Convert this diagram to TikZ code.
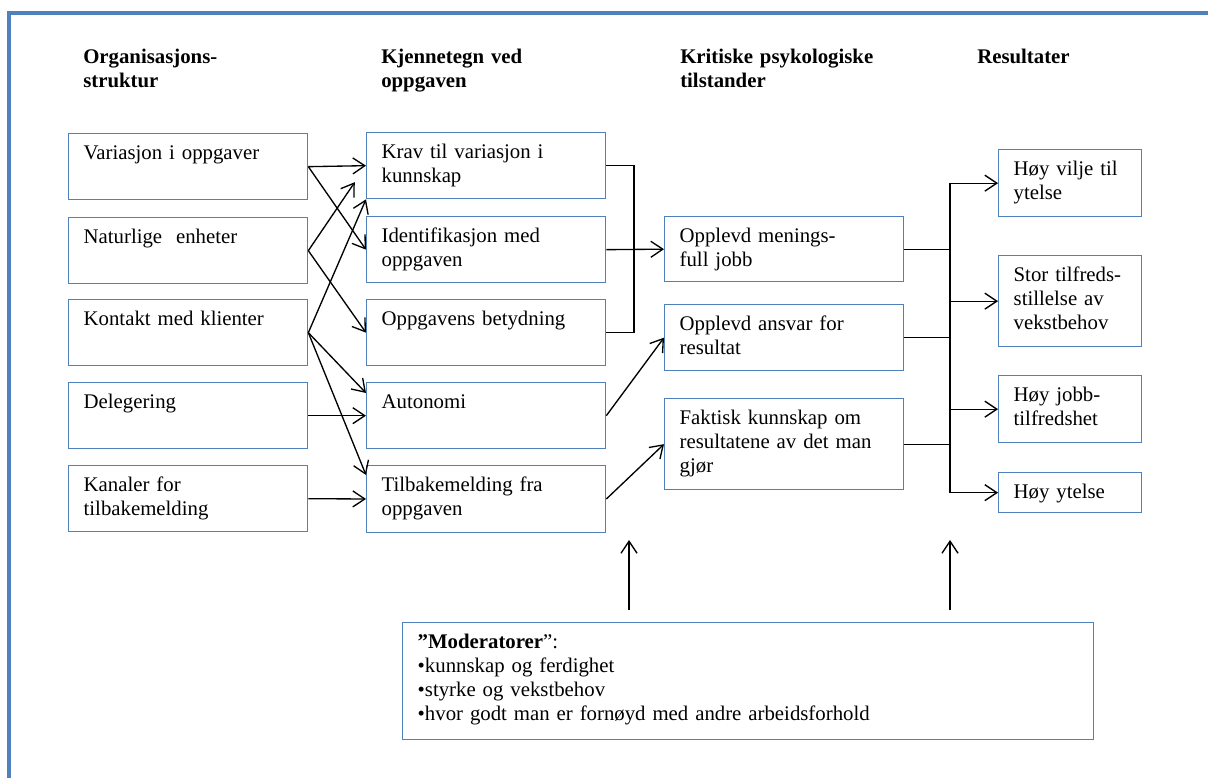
\documentclass[tikz,border=0pt]{standalone}
\usepackage{fontspec}
\setmainfont{Liberation Serif}
\usetikzlibrary{arrows.meta}
\definecolor{kantblaa}{RGB}{79,129,189}

\begin{document}
\begin{tikzpicture}[x=0.75pt, y=-0.75pt,
							font=\fontsize{15.6}{18}\selectfont,
							boks/.style 2 args={draw=kantblaa, line width=1pt, anchor=north west, align=left,
								inner xsep=11.25pt, inner ysep=0pt, text width=#1, text height=19.5pt, text depth=#2},
							overskrift/.style={anchor=base west, align=left, inner sep=0pt, text width=200pt,
								font=\fontsize{15.6}{18}\selectfont\bfseries},
							pil/.style={-{Straight Barb[length=9pt,width=12pt]}, line width=1pt},
							linje/.style={line width=1pt}
						]
						\useasboundingbox (0,0) rectangle (1208,778);
						\draw[kantblaa, line width=3pt] (9,13) rectangle (1240,800);
						% overskrifter
						\node[overskrift] (h1) at (83,63) {Organisasjons-\\struktur};
						\node[overskrift] (h2) at (381,63) {Kjennetegn ved\\oppgaven};
						\node[overskrift] (h3) at (680,63) {Kritiske psykologiske\\tilstander};
						\node[overskrift] (h4) at (977,63) {Resultater};
						% organisasjonsstruktur
						\node[boks={156.75pt}{30pt}] (var) at (68,133) {Variasjon i oppgaver};
						\node[boks={156.75pt}{30pt}] (nat) at (68,217) {Naturlige\ \ enheter};
						\node[boks={156.75pt}{30pt}] (kon) at (68,299) {Kontakt med klienter};
						\node[boks={156.75pt}{30pt}] (del) at (68,382) {Delegering};
						\node[boks={156.75pt}{30pt}] (kan) at (68,465) {Kanaler for\\tilbakemelding};
						% kjennetegn ved oppgaven
						\node[boks={156.75pt}{30pt}] (krav) at (366,132) {Krav til variasjon i\\kunnskap};
						\node[boks={156.75pt}{30pt}] (ident) at (366,216) {Identifikasjon med\\oppgaven};
						\node[boks={156.75pt}{30pt}] (betyd) at (366,299) {Oppgavens betydning};
						\node[boks={156.75pt}{30pt}] (auto) at (366,382) {Autonomi};
						\node[boks={156.75pt}{30.5pt}] (tilb) at (366,465) {Tilbakemelding fra\\oppgaven};
						% tilstander
						\node[boks={156.75pt}{29.25pt}] (mening) at (664,216) {Opplevd menings-\\full jobb};
						\node[boks={156.75pt}{30pt}] (ansvar) at (664,304) {Opplevd ansvar for\\resultat};
						\node[boks={156.75pt}{48.75pt}] (kunnsk) at (664,398) {Faktisk kunnskap om\\resultatene av det man\\gjør};
						% resultater
						\node[boks={84.75pt}{30.75pt}] (vilje) at (998,149) {Høy vilje til\\ytelse};
						\node[boks={84.75pt}{48.75pt}] (tilfreds) at (998,255) {Stor tilfreds-\\stillelse av\\vekstbehov};
						\node[boks={84.75pt}{30.75pt}] (jobb) at (998,375) {Høy jobb-\\tilfredshet};
						\node[boks={84.75pt}{10.5pt}] (ytelse) at (998,472) {Høy ytelse};
						% moderatorer
						\node[boks={495.75pt}{68.25pt}] (moder) at (402,622) {\textbf{”Moderatorer}”:\\•kunnskap og ferdighet\\•styrke og vekstbehov\\•hvor godt man er fornøyd med andre arbeidsforhold};
						\coordinate (samle) at (634,249);
						\coordinate (fordel) at (950,300);
						\coordinate (m1) at (629,540);
						\coordinate (m2) at (950,540);
						\draw[pil] (var.east) -- (krav.west);
						\draw[pil] (var.east) -- (ident.west);
						\draw[pil, shorten >=15pt] (nat.east) -- (krav.west);
						\draw[pil] (nat.east) -- (betyd.west);
						\draw[pil] (kon.east) -- (krav.south west);
						\draw[pil] (kon.east) -- ([yshift=-8.25pt]auto.north west);
						\draw[pil] (kon.east) -- ([yshift=-7.5pt]tilb.north west);
						\draw[pil] (del.east) -- (auto.west);
						\draw[pil] (kan.east) -- (tilb.west);
						\draw[linje] (krav.east) -| (samle) |- (betyd.east);
						\draw[pil] (ident.east) -- (mening.west);
						\draw[pil] (auto.east) -- (ansvar.west);
						\draw[pil] (tilb.east) -- (kunnsk.west);
						\draw[linje] (mening.east) -- (mening.east -| fordel);
						\draw[linje] (ansvar.east) -- (ansvar.east -| fordel);
						\draw[linje] (kunnsk.east) -- (kunnsk.east -| fordel);
						\draw[linje] (vilje.west -| fordel) -- (ytelse.west -| fordel);
						\foreach \m in {vilje,tilfreds,jobb,ytelse}
							\draw[pil] (\m.west -| fordel) -- (\m.west);
						\draw[pil, shorten <=9pt] (moder.north -| m1) -- (m1);
						\draw[pil, shorten <=9pt] (moder.north -| m2) -- (m2);
					\end{tikzpicture}
\end{document}
